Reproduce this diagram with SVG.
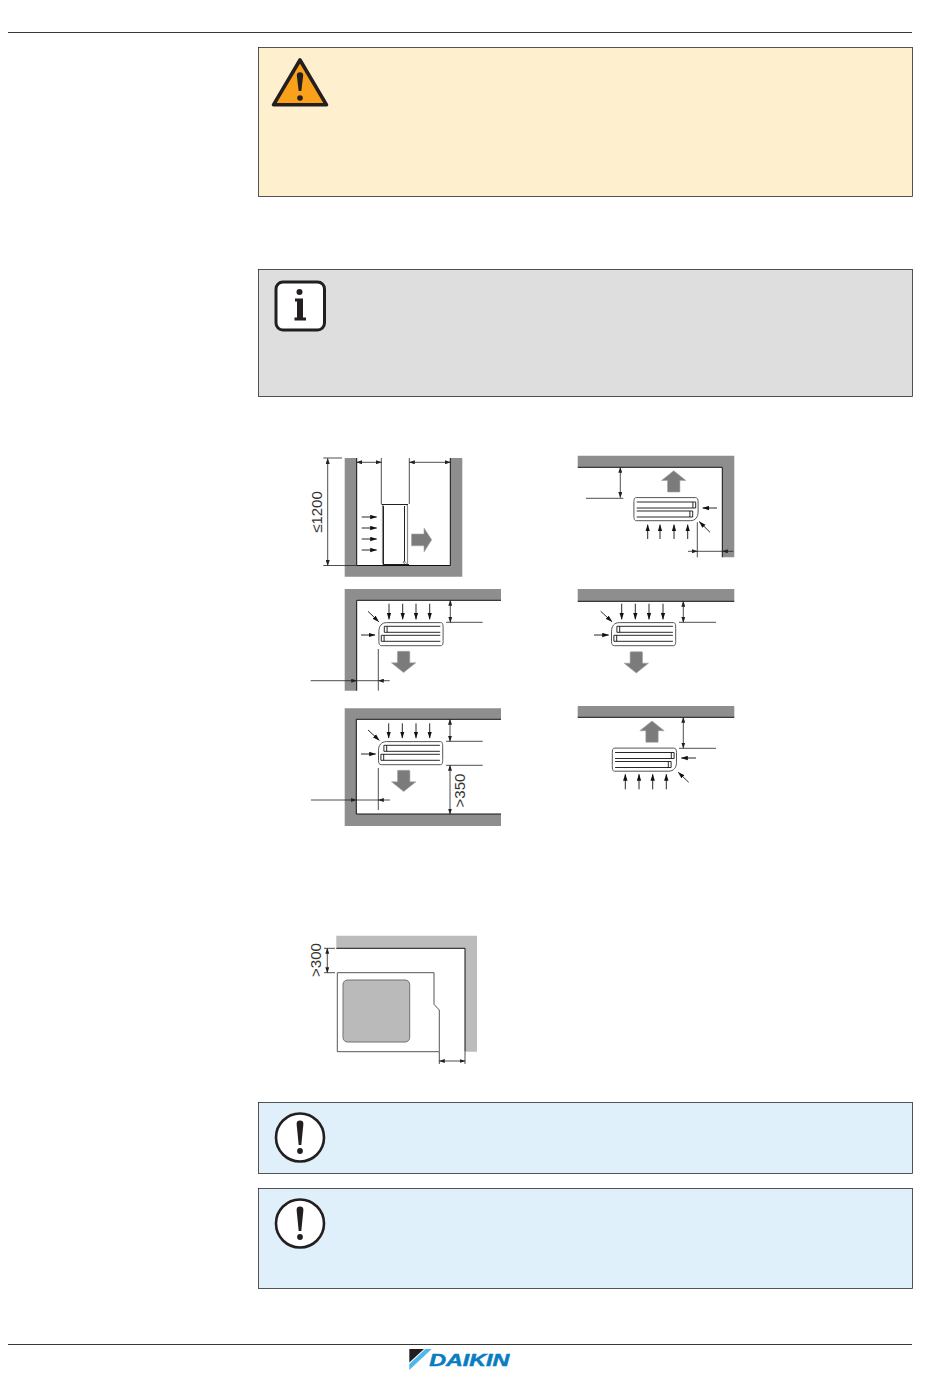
<svg xmlns="http://www.w3.org/2000/svg" width="950" height="1387" viewBox="0 0 950 1387">
<style>
.rule{stroke:#3a3a3a;stroke-width:1;fill:none}
.box{stroke:#2b2b2b;stroke-width:.8}
.wall{fill:#8f8e8e}
.wall2{fill:#bcbcbc}
.edge{fill:none;stroke:#111;stroke-width:1}
.dim{fill:none;stroke:#222;stroke-width:.8}
.dimA{fill:none;stroke:#222;stroke-width:.8;marker-start:url(#sm);marker-end:url(#sm)}
.dimE{fill:none;stroke:#222;stroke-width:.8;marker-end:url(#sm)}
.air{fill:none;stroke:#111;stroke-width:.9;marker-end:url(#lg)}
.blk{fill:#7b7b7b;stroke:#a5a5a5;stroke-width:.6}
.lab{font-family:"Liberation Sans",Arial,sans-serif;font-size:15px;fill:#333}
.ic{fill:#231f20}
</style>
<defs>
<marker id="sm" markerUnits="userSpaceOnUse" markerWidth="6" markerHeight="4" refX="5.5" refY="2" orient="auto-start-reverse"><path d="M0 0L6 2L0 4z" fill="#222"/></marker>
<marker id="lg" markerUnits="userSpaceOnUse" markerWidth="7" markerHeight="5" refX="6.5" refY="2.5" orient="auto"><path d="M0 .3L7 2.5L0 4.7z" fill="#111"/></marker>
<g id="unit">
<path d="M8 .3H62C64 .3 64.4 2 64.4 6V18C64.4 22 64 23.4 62 23.4H3C1 23.4 .2 22 .2 19V9C.2 4 3 .3 8 .3z" fill="#fff" stroke="#555" stroke-width="1"/>
<path d="M5.6 4H61.6M5.6 10H61.6M2.6 13H61.6M2.6 19H61.6M5.6 4V10M8.4 4V10M2.6 13V19M5.4 13V19" fill="none" stroke="#111" stroke-width=".9"/>
</g>
<path id="down" class="blk" d="M-6.2 0.5Q-6.2 0 -5 0H5Q6.2 0 6.2 .5V11.5H12.2L0 21.3L-12.2 11.5H-6.2z"/>
</defs>

<g id="header"><path class="rule" d="M8 32.500H912"/></g>

<g id="warning-box">
<rect class="box" x="258.500" y="47.500" width="654" height="149" fill="#fef0cf"/>
<path d="M300 60L326.500 104.800H273.500z" fill="#f9a11b" stroke="#231f20" stroke-width="3.600" stroke-linejoin="round"/>
<path class="ic" d="M296.800 75.500a3.200 3.200 0 0 1 6.400 0L301.300 91h-2.600z"/><circle class="ic" cx="300" cy="98" r="2.800"/>
</g>

<g id="info-box">
<rect class="box" x="258.500" y="269.500" width="654" height="127" fill="#dedede"/>
<rect x="276" y="282" width="48.500" height="48" rx="7" fill="#fff" stroke="#231f20" stroke-width="3"/>
<circle class="ic" cx="299.500" cy="292" r="3"/>
<path class="ic" d="M295 298.500H303V317.500H306V320.500H294.500V317.500H297V301.500H295z"/>
</g>

<g id="figure-1">
<path class="wall" d="M344.700 458H356.700V565.500H450.300V458H462.300V576.700H344.700z"/>
<path class="edge" d="M356.700 458V565.500H450.300V458"/>
<rect x="382.500" y="504.500" width="25" height="60" rx="2" fill="#fff" stroke="#8a8a8a" stroke-width="1.200"/>
<path d="M383.500 506V564M404.500 506V562M381.500 504.500H408" fill="none" stroke="#222" stroke-width="1"/>
<path d="M383 565H409" stroke="#111" stroke-width="1.800"/>
<circle cx="404.300" cy="562.300" r="1" fill="#fff" stroke="#222" stroke-width=".6"/>
<path class="blk" d="M411.500 534H424V528L431.700 539.800L424 552V545.800H411.500z"/>
<text class="lab" transform="translate(322 512) rotate(-90)" text-anchor="middle">≤1200</text>
</g>

<g id="figure-2">
<path class="wall" d="M344.700 589H501V600.300H356.700V690.700H344.700z"/>
<path class="edge" d="M501 600.300H356.700V690.700"/>
<use href="#unit" x="378.700" y="622.300"/>
<use href="#down" x="403.600" y="651.300"/>
</g>

<g id="figure-3">
<path class="wall" d="M344.700 708.300H501V719.300H356.300V814H501V826H344.700z"/>
<path class="edge" d="M501 719.300H356.300V814H501"/>
<use href="#unit" x="378.300" y="741.300"/>
<use href="#down" x="403.700" y="770.300"/>
<text class="lab" transform="translate(464.500 790.500) rotate(-90)" text-anchor="middle">&gt;350</text>
</g>

<g id="figure-4">
<path class="wall" d="M577.700 455.700H734.300V557.300H722.300V467.300H577.700z"/>
<path class="edge" d="M577.700 467.300H722.300V557.300"/>
<use href="#unit" transform="translate(698.300 521) rotate(180)"/>
<use href="#down" transform="translate(673.700 492) rotate(180)"/>
</g>

<g id="figure-5">
<rect class="wall" x="577.700" y="589" width="156.600" height="12.300"/>
<path class="edge" d="M577.700 601.300H734.300"/>
<use href="#unit" x="611.300" y="622.300"/>
<use href="#down" x="636.300" y="651.700"/>
</g>

<g id="figure-6">
<rect class="wall" x="577.700" y="706" width="156.600" height="11.300"/>
<path class="edge" d="M577.700 717.300H734.300"/>
<use href="#unit" transform="translate(676.700 771.500) rotate(180)"/>
<use href="#down" transform="translate(652 742.300) rotate(180)"/>
</g>

<g id="figure-7">
<path class="wall2" d="M336.300 935.700H477V1051.700H465V948.300H336.300z"/>
<path class="edge" d="M336.300 948.300H465V1051.700"/>
<path d="M337.300 972.700H434V1004.300L439.300 1010V1051.700H337.300z" fill="#fff" stroke="#555" stroke-width="1"/>
<rect x="343" y="980" width="66.700" height="62" rx="4.500" fill="#bababa" stroke="#707070" stroke-width="1"/>
<text class="lab" transform="translate(321 960) rotate(-90)" text-anchor="middle">&gt;300</text>
</g>

<g id="connectors">
<!-- figure 1 -->
<path class="dim" d="M381.300 458V504M409.300 458V504M323.300 458H342M323.300 565.500H356.700"/>
<path class="dimA" d="M356.700 462.300H381.300"/>
<path class="dimA" d="M409.300 462.300H450.300"/>
<path class="dimA" d="M327.700 458.500V565.500"/>
<path class="air" d="M361.700 517H376.700"/>
<path class="air" d="M361.700 528H376.700"/>
<path class="air" d="M361.700 539H376.700"/>
<path class="air" d="M361.700 550H376.700"/>
<!-- figure 2 -->
<path class="air" d="M389 603.700V619.300"/>
<path class="air" d="M402.700 603.700V619.300"/>
<path class="air" d="M416 603.700V619.300"/>
<path class="air" d="M429.700 603.700V619.300"/>
<path class="air" d="M368 611.300L378.700 621.700"/>
<path class="air" d="M361 635H375"/>
<path class="dim" d="M446 622.300H482.700M378.300 649V690.700M356.700 680.700H378.300"/>
<path class="dimA" d="M450.300 600.300V622.300"/>
<path class="dimE" d="M310.700 680.700H356.700"/>
<path class="dimE" d="M389.700 680.700H378.300"/>
<!-- figure 3 -->
<path class="air" d="M388.700 723.300V738"/>
<path class="air" d="M402.300 723.300V738"/>
<path class="air" d="M416 723.300V738"/>
<path class="air" d="M429.700 723.300V738"/>
<path class="air" d="M368 730L379.300 740.300"/>
<path class="air" d="M361 754H375.700"/>
<path class="dim" d="M446 741.300H482.700M446 765.300H482.700M378.300 768V810M356.300 800H378.300"/>
<path class="dimA" d="M450 719.300V741.300"/>
<path class="dimA" d="M450 765.300V814"/>
<path class="dimE" d="M311 800H356.300"/>
<path class="dimE" d="M390 800H378.300"/>
<!-- figure 4 -->
<path class="dim" d="M586 498.300H623.300M697.300 522.300V557.300M697.300 551.300H722.300"/>
<path class="dimA" d="M620.300 467.300V497.500"/>
<path class="dimE" d="M688 551.300H697.300"/>
<path class="dimE" d="M733.300 551.300H722.300"/>
<path class="air" d="M647.700 539V524.700"/>
<path class="air" d="M660 539V524.700"/>
<path class="air" d="M674 539V524.700"/>
<path class="air" d="M687.700 539V524.700"/>
<path class="air" d="M717 508H702.700"/>
<path class="air" d="M710 532.300L699.300 521.700"/>
<!-- figure 5 -->
<path class="air" d="M621.700 603.700V619.300"/>
<path class="air" d="M635.300 603.700V619.300"/>
<path class="air" d="M649 603.700V619.300"/>
<path class="air" d="M663 603.700V619.300"/>
<path class="air" d="M600.700 611.300L612 621.700"/>
<path class="air" d="M594 635H608.700"/>
<path class="dim" d="M679 622.300H716"/>
<path class="dimA" d="M683.300 601.300V622.300"/>
<!-- figure 6 -->
<path class="air" d="M625.300 789.300V774.300"/>
<path class="air" d="M639 789.300V774.300"/>
<path class="air" d="M652.700 789.300V774.300"/>
<path class="air" d="M666.300 789.300V774.300"/>
<path class="air" d="M696 758H681.300"/>
<path class="air" d="M688.700 782.300L678.300 772.300"/>
<path class="dim" d="M679 748.300H716"/>
<path class="dimA" d="M683.300 717.300V748"/>
<!-- figure 7 -->
<path class="dim" d="M324 948.300H335M324 972.700H335M439.300 1052V1064M465 1052V1064"/>
<path class="dimA" d="M327.300 948.300V972.700"/>
<path class="dimA" d="M439.300 1061H465"/>
</g>

<g id="notice-box-1">
<rect class="box" x="258.500" y="1102.500" width="654" height="71" fill="#dff0fa"/>
<circle cx="300" cy="1137.500" r="24" fill="#fff" stroke="#231f20" stroke-width="2.600"/>
<path class="ic" d="M296.600 1124a3.400 3.400 0 0 1 6.800 0L301.300 1145h-2.600z"/><circle class="ic" cx="300" cy="1151" r="2.900"/>
</g>

<g id="notice-box-2">
<rect class="box" x="258.500" y="1188.500" width="654" height="100" fill="#dff0fa"/>
<circle cx="300" cy="1223.500" r="24" fill="#fff" stroke="#231f20" stroke-width="2.600"/>
<path class="ic" d="M296.600 1210a3.400 3.400 0 0 1 6.800 0L301.300 1231h-2.600z"/><circle class="ic" cx="300" cy="1237" r="2.900"/>
</g>

<g id="footer">
<path class="rule" d="M8 1344.500H912"/>
<path d="M409.300 1349H424L409.300 1362.500z" fill="#231f20"/>
<path d="M425.500 1349H431.700L409.300 1370V1364z" fill="#4db8ea"/>
<text x="429.300" y="1365.700" font-family="'Liberation Sans',Arial,sans-serif" font-weight="700" font-style="italic" font-size="16.500" textLength="80" lengthAdjust="spacingAndGlyphs" fill="#0a7cc1" stroke="#0a7cc1" stroke-width=".5">DAIKIN</text>
</g>
</svg>
